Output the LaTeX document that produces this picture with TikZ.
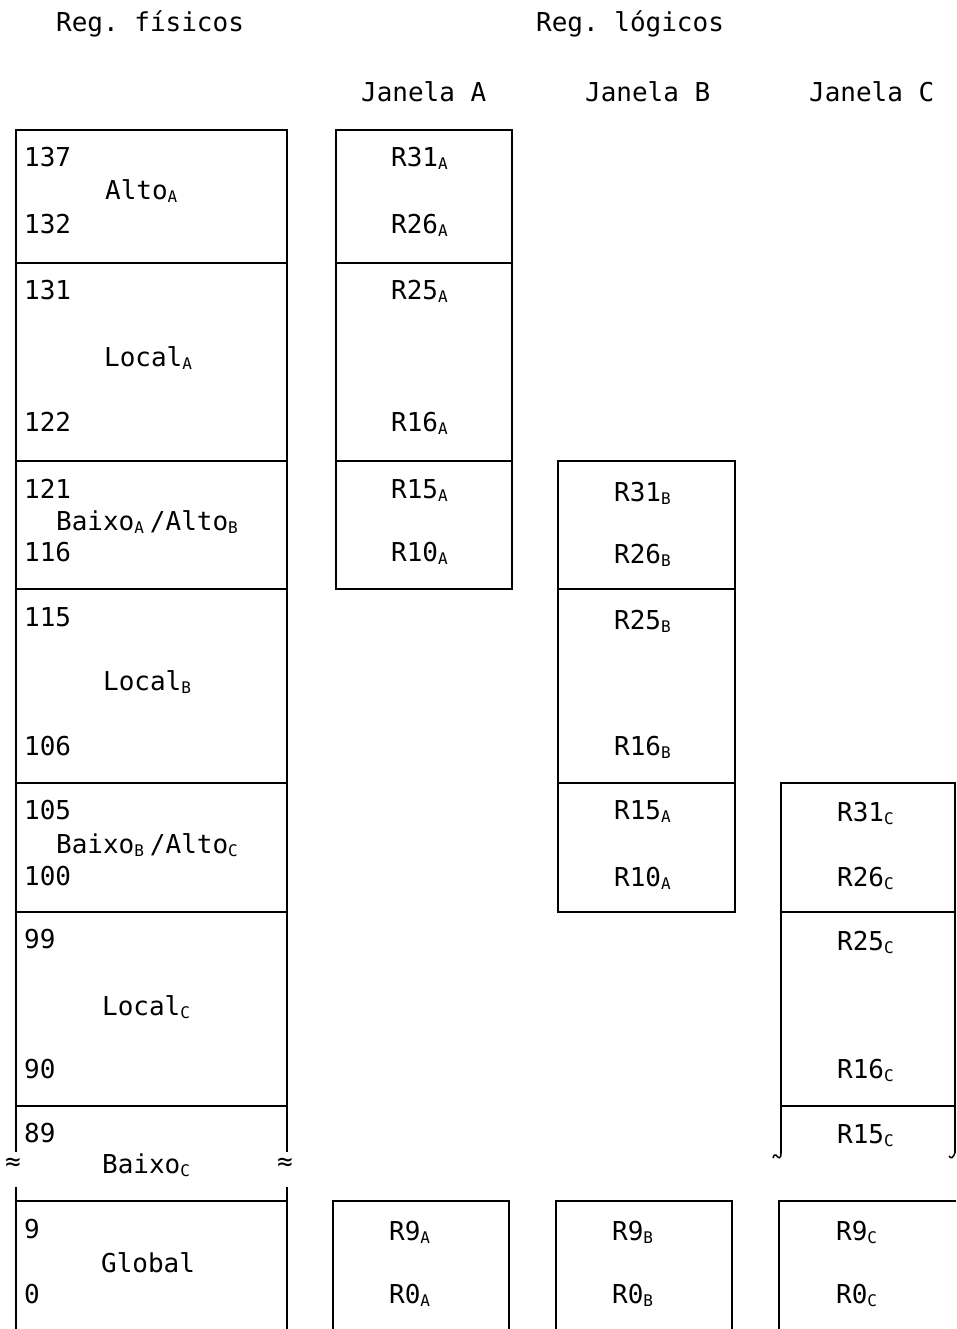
\documentclass[tikz,border=0pt]{standalone}
\usepackage{fontspec}
\setmainfont{DejaVu Sans Mono}
\frenchspacing
\newcommand{\lo}[1]{\makebox[0.6em][l]{\raisebox{-3pt}{\fontsize{16}{16}\selectfont #1}}}
\begin{document}
\begin{tikzpicture}[x=1pt,y=-1pt,line width=2.2pt,line join=miter,
  txt/.style={font=\fontsize{26}{26}\selectfont,inner sep=0pt,anchor=base west},
  brk/.style={font=\fontsize{26}{26}\selectfont,inner sep=0pt,anchor=center}]
\useasboundingbox (0,0) rectangle (956,1329);
% headers
\node[txt] (hf) at (55,32) {Reg. físicos};
\node[txt] (hl) at (535,32) {Reg. lógicos};
\node[txt] (ja) at (360,102) {Janela A};
\node[txt] (jb) at (584,102) {Janela B};
\node[txt] (jc) at (808,102) {Janela C};
% physical column
\draw (16,1152) -- (16,130) -- (287,130) -- (287,1152);
\foreach \yy in {263,461,589,783,912,1106} \draw (16,\yy) -- (287,\yy);
\draw (16,1329) -- (16,1187);
\draw (287,1329) -- (287,1187);
\draw (16,1201) -- (287,1201);
\node[brk] (bl) at (13,1164) {≈};
\node[brk] (br) at (285,1164) {≈};
% window A
\draw (336,130) rectangle (512,589);
\draw (336,263) -- (512,263);
\draw (336,461) -- (512,461);
% window B
\draw (558,461) rectangle (735,912);
\draw (558,589) -- (735,589);
\draw (558,783) -- (735,783);
% window C
\draw (781,1153) -- (781,783) -- (955,783) -- (955,1153);
\draw (781,912) -- (956,912);
\draw (781,1106) -- (956,1106);
\draw[line width=1.5pt] (781,1153) .. controls (781,1160) and (778,1158) .. (776,1155) .. controls (775,1154) and (774,1155) .. (773,1158);
\draw[line width=1.5pt] (955,1153) .. controls (953,1158) and (951,1159) .. (949,1156);
% bottom boxes
\draw (333,1329) -- (333,1201) -- (509,1201) -- (509,1329);
\draw (556,1329) -- (556,1201) -- (732,1201) -- (732,1329);
\draw (779,1329) -- (779,1201) -- (956,1201);
% physical labels
\node[txt] (n137) at (23,167) {137};
\node[txt] (n132) at (23,234) {132};
\node[txt] (n131) at (23,299) {131};
\node[txt] (n122) at (23,431) {122};
\node[txt] (n121) at (23,498) {121};
\node[txt] (n116) at (23,561) {116};
\node[txt] (n115) at (23,626) {115};
\node[txt] (n106) at (23,755) {106};
\node[txt] (n105) at (23,819) {105};
\node[txt] (n100) at (23,885) {100};
\node[txt] (n99) at (23,948) {99};
\node[txt] (n90) at (23,1078) {90};
\node[txt] (n89) at (23,1142) {89};
\node[txt] (n9) at (23,1238) {9};
\node[txt] (n0) at (23,1303) {0};
\node[txt] (altoA) at (104,200) {Alto\lo{A}};
\node[txt] (localA) at (103,366) {Local\lo{A}};
\node[txt] (baixoA) at (55,530) {Baixo\lo{A}/Alto\lo{B}};
\node[txt] (localB) at (102,690) {Local\lo{B}};
\node[txt] (baixoB) at (55,853) {Baixo\lo{B}/Alto\lo{C}};
\node[txt] (localC) at (101,1015) {Local\lo{C}};
\node[txt] (baixoC) at (101,1173) {Baixo\lo{C}};
\node[txt] (global) at (100,1272) {Global};
% window A labels
\node[txt] (a31) at (390,167) {R31\lo{A}};
\node[txt] (a26) at (390,234) {R26\lo{A}};
\node[txt] (a25) at (390,299) {R25\lo{A}};
\node[txt] (a16) at (390,431) {R16\lo{A}};
\node[txt] (a15) at (390,498) {R15\lo{A}};
\node[txt] (a10) at (390,561) {R10\lo{A}};
% window B labels
\node[txt] (b31) at (613,501) {R31\lo{B}};
\node[txt] (b26) at (613,563) {R26\lo{B}};
\node[txt] (b25) at (613,629) {R25\lo{B}};
\node[txt] (b16) at (613,755) {R16\lo{B}};
\node[txt] (b15) at (613,819) {R15\lo{A}};
\node[txt] (b10) at (613,886) {R10\lo{A}};
% window C labels
\node[txt] (c31) at (836,821) {R31\lo{C}};
\node[txt] (c26) at (836,886) {R26\lo{C}};
\node[txt] (c25) at (836,950) {R25\lo{C}};
\node[txt] (c16) at (836,1078) {R16\lo{C}};
\node[txt] (c15) at (836,1143) {R15\lo{C}};
% bottom labels
\node[txt] (a9) at (388,1240) {R9\lo{A}};
\node[txt] (a0) at (388,1303) {R0\lo{A}};
\node[txt] (b9) at (611,1240) {R9\lo{B}};
\node[txt] (b0) at (611,1303) {R0\lo{B}};
\node[txt] (c9) at (835,1240) {R9\lo{C}};
\node[txt] (c0) at (835,1303) {R0\lo{C}};
\end{tikzpicture}
\end{document}
